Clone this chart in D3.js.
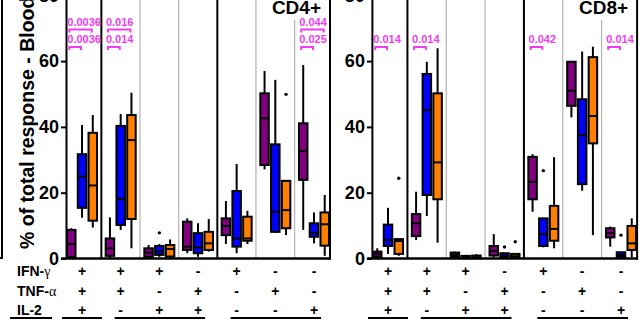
<!DOCTYPE html>
<html>
<head>
<meta charset="utf-8">
<script src="https://cdnjs.cloudflare.com/ajax/libs/d3/7.8.5/d3.min.js"></script>
<style>
  body { margin: 0; background: #fff; }
  svg { display: block; font-family: "Liberation Sans", Arial, sans-serif; }
</style>
</head>
<body>
<svg id="chart" width="642" height="322"></svg>
<script>
/* cytokine combinations, left to right */
var combos = ["IFN+TNF+IL2+", "IFN+TNF+", "IFN+IL2+", "TNF+IL2+", "IFN+", "TNF+", "IL2+"];
var ifnSigns = ["+", "+", "+", "-", "+", "-", "-"];
var tnfSigns = ["+", "+", "-", "+", "-", "+", "-"];
var il2Signs = ["+", "-", "+", "+", "-", "-", "+"];

var series = ["A", "B", "C"];
var seriesColors = ["#800080", "#0000ff", "#ff8000"];
var yTicks = [0, 20, 40, 60, 80];

/* box stats per combination: [min, q1, median, q3, max] */
var cd4A = [[0, 0.4, 4.4, 8.7, 9.2], [0, 0.8, 3.1, 6.1, 12.5], [0, 0.5, 1.8, 3.1, 4.1], [1.6, 2.6, 3.6, 11.2, 12.2],
            [4.4, 7.1, 9.9, 12.2, 17.5], [27.1, 28.4, 42.6, 50.2, 57], [8.7, 23.9, 32.7, 41.1, 58.8]];
var cd4B = [[12.4, 15.4, 24.9, 31.7, 40.6], [8.7, 10.2, 18.1, 40.3, 43.9], [0.5, 1.1, 2.1, 3.8, 4.4], [0.5, 1.6, 3.4, 7.7, 10.7],
            [1.6, 3.6, 6.1, 20.5, 28.7], [7.8, 8.1, 14.2, 34.7, 54.3], [4.6, 6.6, 7.7, 10.7, 14]];
var cd4C = [[9.4, 11.5, 22.2, 38.2, 43.6], [3.1, 12, 36, 43.6, 50.4], [0, 0.6, 2.9, 4.1, 5.8], [2.1, 2.6, 4.6, 8.1, 12],
            [4.4, 5.4, 6.1, 12.7, 14.5], [7.1, 9.2, 14.7, 23.6, 23.6], [0.8, 3.9, 10.4, 14, 19.3]];

var cd8A = [[0, 0.5, 1.3, 2.1, 3.1], [5.6, 6.8, 10.7, 13.5, 20.3], [0, 0.5, 1.1, 1.8, 2.1], [0.3, 0.9, 2.3, 3.8, 7.4],
            [14.2, 18, 23.3, 30.9, 31.7], [42.9, 46.4, 51, 59.8, 59.8], [3.6, 6.4, 7.7, 9.2, 9.7]];
var cd8B = [[1.4, 3.8, 5.6, 10.3, 15.4], [12.9, 19.3, 45.1, 56.1, 59.8], [0, 0.1, 0.3, 0.8, 1], [0, 0.3, 0.8, 1.6, 1.6],
            [3.4, 3.8, 7.4, 12.2, 12.2], [20.6, 22.6, 37.5, 48.4, 62.9], [0, 0.4, 1.1, 1.9, 1.9]];
var cd8C = [[0.8, 1.4, 5.3, 5.9, 5.9], [4.8, 18, 29.2, 50.2, 63.9], [0, 0.1, 0.4, 0.9, 1.3], [0, 0.3, 0.7, 1.4, 1.4],
            [3.1, 5.4, 9, 16, 30.8], [7.1, 35, 43.3, 61.2, 64.4], [0.4, 2.6, 4.6, 9.9, 12.2]];

/* single points outside the whiskers: [combination index, series, value] */
var cd4Outliers = [[2, "B", 7.8], [5, "C", 49.9]];
var cd8Outliers = [[0, "C", 24.4], [3, "B", 3.5], [3, "C", 5.1], [4, "B", 26.7], [6, "B", 7.1]];

/* p-value brackets: [combination index, from, to, label, row] */
var cd4Notes = [[0, "A", "C", "0.0036", 0], [0, "A", "B", "0.0036", 1],
                [1, "A", "C", "0.016", 0], [1, "A", "B", "0.014", 1],
                [6, "A", "C", "0.044", 0], [6, "A", "B", "0.025", 1]];
var cd8Notes = [[0, "A", "B", "0.014", 1], [1, "A", "B", "0.014", 1],
                [4, "A", "B", "0.042", 1], [6, "A", "B", "0.014", 1]];

var svg = d3.select("#chart");
var magenta = "#f03cf0";

var y = d3.scaleLinear()
    .domain([0, 80])
    .range([258.5, -4.7]);

function countPlus(i){
    return [ifnSigns[i], tnfSigns[i], il2Signs[i]].filter(function(s){ return s == "+"; }).length;
}

function drawPanel(p){
    var g = svg.append("g");
    var x = d3.scaleBand().domain(combos).range(p.range);
    var inner = d3.scalePoint().domain(series).range([-10.75, 10.75]);
    var left = p.range[0] + 3.3,
        right = p.range[1] - 3.3,
        boxW = 8.5;

    function cx(i, s){ return x(combos[i]) + x.bandwidth() / 2 + inner(s); }

    // group separators, black where the number of cytokines changes
    combos.forEach(function(c, i){
        if(i == 0) return;
        var strong = countPlus(i) != countPlus(i - 1);
        g.append("line")
            .attr("x1", x(c)).attr("x2", x(c))
            .attr("y1", 0).attr("y2", y(0))
            .attr("stroke", strong ? "#000" : "#b4b4b4")
            .attr("stroke-width", strong ? 2 : 1.2);
    });
    g.append("line")
        .attr("x1", right).attr("x2", right)
        .attr("y1", 0).attr("y2", y(0) + 1)
        .attr("stroke", "#000").attr("stroke-width", 2);

    // title with white backing
    var title = g.append("text")
        .attr("x", right - 9).attr("y", 14)
        .attr("text-anchor", "end")
        .attr("font-size", 19).attr("font-weight", "bold")
        .text(p.name);
    var bb = title.node().getBBox();
    g.insert("rect", "text")
        .attr("x", bb.x - 2).attr("y", 0)
        .attr("width", bb.width + 4).attr("height", bb.y + bb.height + 2)
        .attr("fill", "#fff");

    // y axis
    var ax = g.append("g")
        .attr("transform", "translate(" + left + ",0)")
        .call(d3.axisLeft(y).tickValues(yTicks).tickSize(5).tickSizeOuter(0).tickPadding(2));
    ax.select(".domain").attr("stroke-width", 2);
    ax.selectAll(".tick line").attr("stroke-width", 2);
    ax.selectAll(".tick text")
        .attr("font-size", 18).attr("font-weight", "bold")
        .attr("font-family", "Liberation Sans, Arial, sans-serif")
        .attr("fill", "#000");

    g.append("line")
        .attr("x1", left - 5).attr("x2", right + 1)
        .attr("y1", y(0)).attr("y2", y(0))
        .attr("stroke", "#000").attr("stroke-width", 2.5);

    // boxes
    series.forEach(function(s, si){
        p.boxes[si].forEach(function(d, i){
            var c = cx(i, s);
            g.append("line")
                .attr("x1", c).attr("x2", c)
                .attr("y1", y(d[4])).attr("y2", y(d[0]))
                .attr("stroke", "#000").attr("stroke-width", 2);
            g.append("rect")
                .attr("x", c - boxW / 2).attr("y", y(d[3]))
                .attr("width", boxW).attr("height", Math.max(y(d[1]) - y(d[3]), 1))
                .attr("fill", seriesColors[si])
                .attr("stroke", "#000").attr("stroke-width", 2);
            g.append("line")
                .attr("x1", c - boxW / 2).attr("x2", c + boxW / 2)
                .attr("y1", y(d[2])).attr("y2", y(d[2]))
                .attr("stroke", "#000").attr("stroke-width", 2);
        });
    });

    p.outliers.forEach(function(o){
        g.append("circle")
            .attr("cx", cx(o[0], o[1])).attr("cy", y(o[2]))
            .attr("r", 1.7).attr("fill", "#000");
    });

    // p-value brackets
    var rowText = [25.5, 43], rowBracket = [29.5, 47];
    p.notes.forEach(function(n){
        var x1 = cx(n[0], n[1]) - 2,
            x2 = cx(n[0], n[2]) - 1,
            yb = rowBracket[n[4]];
        g.append("path")
            .attr("d", "M" + x1 + "," + (yb + 3) + "V" + yb + "H" + x2 + "V" + (yb + 3))
            .attr("fill", "none").attr("stroke", magenta).attr("stroke-width", 2);
        g.append("text")
            .attr("x", cx(n[0], n[1]) - 4).attr("y", rowText[n[4]])
            .attr("font-size", 11).attr("font-weight", "bold")
            .attr("fill", magenta)
            .text(n[3]);
    });

    // +/- rows
    var rows = [ifnSigns, tnfSigns, il2Signs], rowY = [275.5, 296, 315];
    rows.forEach(function(signs, r){
        signs.forEach(function(s, i){
            g.append("text")
                .attr("x", x(combos[i]) + x.bandwidth() / 2).attr("y", rowY[r])
                .attr("text-anchor", "middle")
                .attr("font-size", 14).attr("font-weight", "bold")
                .text(s);
        });
    });

    // underline each cytokine-count group
    d3.groups(d3.range(combos.length), countPlus).forEach(function(grp){
        var idx = grp[1],
            a = x(combos[idx[0]]) + x.bandwidth() / 2,
            b = x(combos[idx[idx.length - 1]]) + x.bandwidth() / 2;
        if(idx.length == 1){ a -= 20; b += 20; }
        else { a -= 6; b += 7; }
        g.append("line")
            .attr("x1", a).attr("x2", b)
            .attr("y1", 318).attr("y2", 318)
            .attr("stroke", "#000").attr("stroke-width", 2);
    });
}

// edge of the neighbouring panel
svg.append("path")
    .attr("d", "M2,0V258H0")
    .attr("fill", "none").attr("stroke", "#000").attr("stroke-width", 2);

svg.append("text")
    .attr("transform", "translate(34,249) rotate(-90)")
    .attr("font-size", 19.5).attr("font-weight", "bold")
    .text("% of total response - Blood");

var labels = [["IFN-", "\u03b3"], ["TNF-", "\u03b1"], ["IL-2", ""]], labelY = [275.5, 296, 315];
labels.forEach(function(l, i){
    var t = svg.append("text")
        .attr("x", 17).attr("y", labelY[i])
        .attr("font-size", 14).attr("font-weight", "bold");
    t.append("tspan").text(l[0]);
    t.append("tspan")
        .attr("font-family", "Liberation Serif, serif")
        .attr("font-weight", "normal")
        .text(l[1]);
});
svg.append("line")
    .attr("x1", 10).attr("x2", 52)
    .attr("y1", 318).attr("y2", 318)
    .attr("stroke", "#000").attr("stroke-width", 2);

drawPanel({name: "CD4+", range: [62.7, 333.3], boxes: [cd4A, cd4B, cd4C], outliers: cd4Outliers, notes: cd4Notes});
drawPanel({name: "CD8+", range: [368.6, 640.4], boxes: [cd8A, cd8B, cd8C], outliers: cd8Outliers, notes: cd8Notes});
</script>
</body>
</html>
